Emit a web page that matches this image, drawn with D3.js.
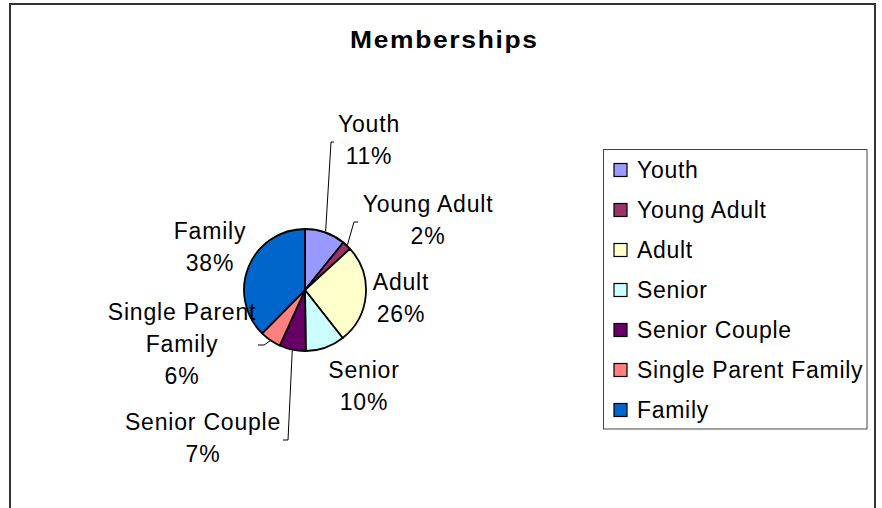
<!DOCTYPE html>
<html>
<head>
<meta charset="utf-8">
<script src="https://cdn.jsdelivr.net/npm/d3@7"></script>
<style>
body { margin: 0; background: #fff; }
svg { display: block; font-family: "Liberation Sans", Arial, sans-serif; }
</style>
</head>
<body>
<svg></svg>
<script>
'use strict';

// data (percent of memberships)
const categories = ["Youth", "Young Adult", "Adult", "Senior", "Senior Couple", "Single Parent Family", "Family"];
const members = [10.8, 2.4, 26.2, 10.4, 7.0, 5.6, 37.6];
const sliceColors = ["#9999ff", "#993366", "#ffffcc", "#ccffff", "#660066", "#ff8080", "#0066cc"];
const labelLines = [["Youth"], ["Young Adult"], ["Adult"], ["Senior"], ["Senior Couple"], ["Single Parent", "Family"], ["Family"]];

const WIDTH = 882, HEIGHT = 508;
const CX = 305, CY = 290, R = 61;
const LINE_H = 32;

// where Excel put the data labels: centre x, first baseline y, leader elbow + end
const labelLayout = {
    "Youth": {x: 369, y: 132, leader: [[331, 142], [334, 142]]},
    "Young Adult": {x: 428, y: 212, leader: [[354, 222], [358, 222]]},
    "Adult": {x: 401, y: 290},
    "Senior": {x: 364, y: 378},
    "Senior Couple": {x: 203, y: 430, leader: [[288, 440], [283, 440]]},
    "Single Parent Family": {x: 182, y: 320, leader: [[264, 345], [258, 345]]},
    "Family": {x: 210, y: 239}
};

var svg = d3.select("svg")
    .attr("width", WIDTH)
    .attr("height", HEIGHT);

// chart area border (runs off the bottom of the window)
svg.append("rect")
    .attr("x", 10)
    .attr("y", 4)
    .attr("width", 865)
    .attr("height", 540)
    .attr("fill", "#fff")
    .attr("stroke", "#333")
    .attr("stroke-width", 2);

// title glyphs are a bit wide in the original, so stretch horizontally
svg.append("text")
    .attr("transform", "translate(443.5,48) scale(1.1,1)")
    .attr("text-anchor", "middle")
    .attr("font-size", 24)
    .attr("font-weight", "bold")
    .attr("textLength", 170)
    .attr("lengthAdjust", "spacing")
    .text("Memberships");

var total = d3.sum(members);
var color = d3.scaleOrdinal().domain(categories).range(sliceColors);

var pie = d3.pie().sort(null).value(function (d) { return d.value; });
var arc = d3.arc().innerRadius(0).outerRadius(R);
var rim = d3.arc().innerRadius(R + 1).outerRadius(R + 1);

var rows = categories.map(function (c, i) {
    return {name: c, value: members[i], lines: labelLines[i]};
});
var arcs = pie(rows);

var g = svg.append("g").attr("transform", "translate(" + CX + "," + CY + ")");

g.selectAll(".slice")
    .data(arcs)
    .enter()
    .append("path")
    .attr("class", "slice")
    .attr("d", arc)
    .attr("fill", function (d) { return color(d.data.name); })
    .attr("stroke", "#000")
    .attr("stroke-width", 1.8)
    .attr("stroke-linejoin", "round");

// leader lines
svg.selectAll(".leader")
    .data(arcs.filter(function (d) { return labelLayout[d.data.name].leader; }))
    .enter()
    .append("polyline")
    .attr("class", "leader")
    .attr("fill", "none")
    .attr("stroke", "#000")
    .attr("stroke-width", 1)
    .attr("points", function (d) {
        var c = rim.centroid(d);
        var pts = [[CX + c[0], CY + c[1]]].concat(labelLayout[d.data.name].leader);
        return pts.map(function (p) { return p.join(","); }).join(" ");
    });

// data labels
var labels = svg.selectAll(".label")
    .data(arcs)
    .enter()
    .append("text")
    .attr("class", "label")
    .attr("text-anchor", "middle")
    .attr("font-size", 23)
    .attr("letter-spacing", 0.8)
    .attr("fill", "#000");

labels.each(function (d) {
    var pos = labelLayout[d.data.name];
    var lines = d.data.lines.concat([Math.round(d.data.value / total * 100) + "%"]);
    var t = d3.select(this);
    lines.forEach(function (line, i) {
        t.append("tspan")
            .attr("x", pos.x)
            .attr("y", pos.y + i * LINE_H)
            .text(line);
    });
});

// legend
var legend = svg.append("g");
legend.append("rect")
    .attr("x", 603.5)
    .attr("y", 149.5)
    .attr("width", 263.5)
    .attr("height", 279.5)
    .attr("fill", "#fff")
    .attr("stroke", "#444")
    .attr("stroke-width", 1);

var rowY = d3.scalePoint().domain(categories).range([170, 410]);

var items = legend.selectAll(".item")
    .data(categories)
    .enter()
    .append("g")
    .attr("class", "item")
    .attr("transform", function (d) { return "translate(0," + rowY(d) + ")"; });

items.append("rect")
    .attr("x", 614)
    .attr("y", -6.5)
    .attr("width", 13)
    .attr("height", 13)
    .attr("fill", function (d) { return color(d); })
    .attr("stroke", "#000")
    .attr("stroke-width", 1.2);

items.append("text")
    .attr("x", 637)
    .attr("y", 8.3)
    .attr("font-size", 23)
    .attr("letter-spacing", 0.7)
    .text(function (d) { return d; });
</script>
</body>
</html>
